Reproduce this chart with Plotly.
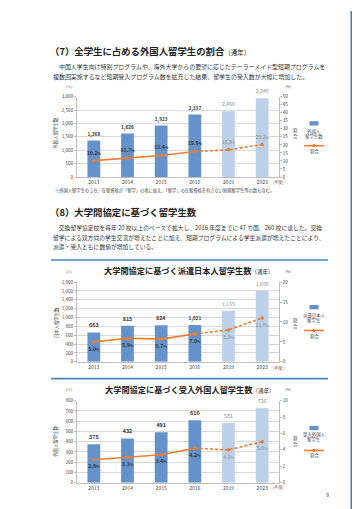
import plotly.graph_objects as go

# ---------------- data ----------------
years = ["2013", "2014", "2015", "2016", "2019", "2023"]
actual_flags = [True, True, True, True, False, False]

intl_students = [1368, 1626, 1923, 2337, 2460, 2940]
intl_ratio = [10.2, 11.7, 13.4, 15.9, 16.9, 20.2]

dispatch_bar = [663, 815, 824, 830, 1155, 1600]          # heights as drawn
dispatch_labels = ["663", "815", "824", "1,021", "1,155", "1,600"]
dispatch_ratio = [5.0, 5.9, 5.7, 7.0, 8.0, 11.0]

accept_students = [375, 432, 491, 610, 581, 726]
accept_ratio = [2.8, 3.1, 3.4, 4.2, 4.0, 5.0]

# ---------------- style ----------------
W, H = 360, 509
FONT = "Noto Sans CJK JP"
DARK_BAR = "#6593C9"
LIGHT_BAR = "#BDD0EA"
ORANGE = "#ED7D31"
BLUE = "#3C7DC0"
GRID = "#d9d9d9"
AXIS = "#bfbfbf"
TXT = "#333333"
GRAY_TXT = "#8c8c8c"


def fx(px):
    return px / W


def fy(py):
    return 1 - py / H


fig = go.Figure()
annotations = []
shapes = []


def ann(x, y, text, size, color=TXT, xanchor="left", yanchor="middle", angle=0):
    annotations.append(dict(
        x=fx(x), y=fy(y), xref="paper", yref="paper", text=text, showarrow=False,
        xanchor=xanchor, yanchor=yanchor, textangle=angle,
        font=dict(family=FONT, size=size, color=color)))


X0, X1 = 69, 271

charts = [
    dict(top=86.7, bottom=168, counts=intl_students,
         labels=[f"{v:,}" for v in intl_students], ratio=intl_ratio,
         ymax=3000, dtick=500, rmax=50, rdtick=5, rpos="top center",
         ytitle="外国人留学生数", ytitle_y=124, leg=["外国人", "留学生数"],
         leg_sq=113.7, leg_t=(121.7, 127.3), leg_line=136.3, leg_lt=141.7,
         unit_y=80.5, year_y=172.7),
    dict(top=274.3, bottom=355, counts=dispatch_bar,
         labels=dispatch_labels, ratio=dispatch_ratio,
         ymax=1800, dtick=200, rmax=20, rdtick=5, rpos="bottom center",
         ytitle="日本人留学生数", ytitle_y=316, leg=["派遣日本人", "留学生"],
         leg_sq=299.7, leg_t=(308.3, 313.3), leg_line=323.3, leg_lt=329,
         unit_y=268, year_y=361),
    dict(top=394.3, bottom=477.3, counts=accept_students,
         labels=[f"{v:,}" for v in accept_students], ratio=accept_ratio,
         ymax=800, dtick=100, rmax=10, rdtick=2, rpos="bottom center",
         ytitle="外国人留学生数", ytitle_y=436, leg=["受入外国人", "留学生"],
         leg_sq=422, leg_t=(429, 434), leg_line=444.7, leg_lt=450,
         unit_y=388, year_y=481.5),
]

layout_axes = {}
for i, c in enumerate(charts):
    n = i + 1
    xid = "x" if n == 1 else f"x{n}"
    yl_n, yr_n = 2 * n - 1, 2 * n
    ylid = "y" if yl_n == 1 else f"y{yl_n}"
    yrid = f"y{yr_n}"
    xkey = "xaxis" if n == 1 else f"xaxis{n}"
    ylkey = "yaxis" if yl_n == 1 else f"yaxis{yl_n}"
    yrkey = f"yaxis{yr_n}"

    dom_y = [fy(c["bottom"]), fy(c["top"])]
    layout_axes[xkey] = dict(domain=[fx(X0), fx(X1)], anchor=ylid, type="category",
                             showline=True, linecolor=AXIS, linewidth=0.8, ticks="",
                             tickfont=dict(family=FONT, size=5, color="#444"),
                             showgrid=False, fixedrange=True)
    layout_axes[ylkey] = dict(domain=dom_y, anchor=xid, range=[0, c["ymax"]],
                              dtick=c["dtick"], tickformat=",d", showgrid=True,
                              gridcolor=GRID, gridwidth=0.6, zeroline=False,
                              showline=True, linecolor=AXIS, linewidth=0.8,
                              ticks="outside", ticklen=2, tickcolor=AXIS,
                              tickfont=dict(family=FONT, size=4.6, color="#444"),
                              fixedrange=True)
    layout_axes[yrkey] = dict(overlaying=ylid, anchor=xid, side="right",
                              range=[0, c["rmax"]], dtick=c["rdtick"], showgrid=False,
                              zeroline=False, showline=True, linecolor=AXIS,
                              linewidth=0.8, ticks="outside", ticklen=2, tickcolor=AXIS,
                              tickfont=dict(family=FONT, size=4.6, color="#444"),
                              fixedrange=True)

    bar_colors = [DARK_BAR if a else LIGHT_BAR for a in actual_flags]
    bar_text = [f"<b>{t}</b>" if a else t for t, a in zip(c["labels"], actual_flags)]
    bar_tcol = [TXT if a else GRAY_TXT for a in actual_flags]
    fig.add_trace(go.Bar(x=years, y=c["counts"], xaxis=xid, yaxis=ylid,
                         marker=dict(color=bar_colors, line=dict(width=0)),
                         text=bar_text, textposition="outside", cliponaxis=False,
                         textfont=dict(family=FONT, size=5.4, color=bar_tcol),
                         showlegend=False, hoverinfo="skip"))
    # solid actual line
    fig.add_trace(go.Scatter(x=years[:4], y=c["ratio"][:4], xaxis=xid, yaxis=yrid,
                             mode="lines+markers",
                             line=dict(color=ORANGE, width=1.6),
                             marker=dict(color=ORANGE, size=3.5),
                             showlegend=False, hoverinfo="skip"))
    # dashed forecast line
    fig.add_trace(go.Scatter(x=years[3:], y=c["ratio"][3:], xaxis=xid, yaxis=yrid,
                             mode="lines+markers",
                             line=dict(color=ORANGE, width=1.6, dash="3px,2px"),
                             marker=dict(color=ORANGE, size=3.5),
                             showlegend=False, hoverinfo="skip"))
    r_text = []
    for v, a in zip(c["ratio"], actual_flags):
        s = f"{v:.1f}<span style='font-size:3.5px'>%</span>"
        r_text.append(f"<b>{s}</b>" if a else s)
    r_col = [TXT if a else GRAY_TXT for a in actual_flags]
    fig.add_trace(go.Scatter(x=years, y=c["ratio"], xaxis=xid, yaxis=yrid,
                             mode="markers+text", text=r_text,
                             textposition=c["rpos"],
                             marker=dict(size=6, color="rgba(0,0,0,0)"),
                             textfont=dict(family=FONT, size=5.2, color=r_col),
                             cliponaxis=False, showlegend=False, hoverinfo="skip"))

    # unit labels & axis titles
    ann(66, c["unit_y"], "(人)", 3.8, "#555", xanchor="right", yanchor="bottom")
    ann(275, c["unit_y"], "(%)", 3.8, "#555", yanchor="bottom")
    ann(263, c["year_y"], "(年度)", 4, "#555")
    ann(48, c["ytitle_y"], c["ytitle"], 4.4, "#444", xanchor="center", angle=-90)
    ann(287, c["ytitle_y"], "割<br>合", 4.4, "#444", xanchor="center")

    # legend
    shapes.append(dict(type="rect", xref="paper", yref="paper",
                       x0=fx(301.5), x1=fx(310.5), y0=fy(c["leg_sq"] + 2.2),
                       y1=fy(c["leg_sq"] - 2.2), fillcolor=DARK_BAR, line=dict(width=0)))
    ann(306, c["leg_t"][0], c["leg"][0], 4.4, "#444", xanchor="center")
    ann(306, c["leg_t"][1], c["leg"][1], 4.4, "#444", xanchor="center")
    shapes.append(dict(type="line", xref="paper", yref="paper",
                       x0=fx(296), x1=fx(316), y0=fy(c["leg_line"]), y1=fy(c["leg_line"]),
                       line=dict(color=ORANGE, width=1.6)))
    shapes.append(dict(type="circle", xref="paper", yref="paper",
                       x0=fx(304.3), x1=fx(307.7), y0=fy(c["leg_line"] + 1.7),
                       y1=fy(c["leg_line"] - 1.7), fillcolor=ORANGE, line=dict(width=0)))
    ann(306, c["leg_lt"], "割合", 4.4, "#444", xanchor="center")

# ---------------- page text ----------------
ann(40, 40, "<b>（7）全学生に占める外国人留学生の割合</b><span style='font-size:6.5px'>（通年）</span>",
    9.4, "#222")
ann(43, 56.5, "　中国人学生向け特別プログラムや、海外大学からの要望に応じたテーラーメイド型短期プログラムを",
    5.95, "#333")
ann(43, 66, "複数回実施するなど短期受入プログラム数を拡充した結果、留学生の受入数が大幅に増加した。",
    5.95, "#333")
ann(45, 182, "※外国人留学生のうち、在留資格が「留学」の者に加え、「留学」の在留資格を有さない短期留学生等の数も含む。",
    4.25, "#444")

ann(40, 203, "<b>（8）大学間協定に基づく留学生数</b>", 9.4, "#222")
ann(43, 219.5, "　交換留学協定校を毎年 20 校以上のペースで拡大し、2016 年度までに 47 カ国、260 校に達した。交換",
    5.8, "#333")
ann(43, 229, "留学による双方向の学生交流が増えたことに加え、短期プログラムによる学生派遣が増えたことにより、",
    5.8, "#333")
ann(43, 238.5, "派遣・受入ともに数値が増加している。", 5.8, "#333")

shapes.append(dict(type="line", xref="paper", yref="paper", x0=fx(43), x1=fx(320),
                   y0=fy(252), y1=fy(252), line=dict(color="#4A86C5", width=1.6)))
shapes.append(dict(type="line", xref="paper", yref="paper", x0=fx(43), x1=fx(320),
                   y0=fy(372), y1=fy(372), line=dict(color="#4A86C5", width=1.6)))

ann(180, 262.5, "<b>大学間協定に基づく派遣日本人留学生数</b><span style='font-size:5.5px'>（通年）</span>",
    8.2, "#222", xanchor="center")
ann(181, 382.5, "<b>大学間協定に基づく受入外国人留学生数</b><span style='font-size:5.5px'>（通年）</span>",
    8.2, "#222", xanchor="center")

ann(319, 490, "9", 5.5, "#555", xanchor="center")

# right blue sidebar with white tab
shapes.append(dict(type="rect", xref="paper", yref="paper", x0=fx(342.5), x1=fx(361),
                   y0=fy(509), y1=fy(0), fillcolor=BLUE, line=dict(width=0), layer="below"))
tab_path = (f"M {fx(361)},{fy(62)} L {fx(348)},{fy(62)} Q {fx(344.5)},{fy(62)} {fx(344.5)},{fy(66)} "
            f"L {fx(344.5)},{fy(126)} Q {fx(344.5)},{fy(130)} {fx(348)},{fy(130)} L {fx(361)},{fy(130)} Z")
shapes.append(dict(type="path", xref="paper", yref="paper", path=tab_path,
                   fillcolor="white", line=dict(width=0), layer="below"))
ann(349.5, 97, "上<br>智<br>大<br>学", 5.3, "#3a4f6a", xanchor="center")

fig.update_layout(
    width=W, height=H, margin=dict(l=0, r=0, t=0, b=0),
    paper_bgcolor="white", plot_bgcolor="white",
    bargap=0.62, showlegend=False,
    annotations=annotations, shapes=shapes,
    font=dict(family=FONT),
    **layout_axes,
)

fig.write_html("out.html", config={"displayModeBar": False})
